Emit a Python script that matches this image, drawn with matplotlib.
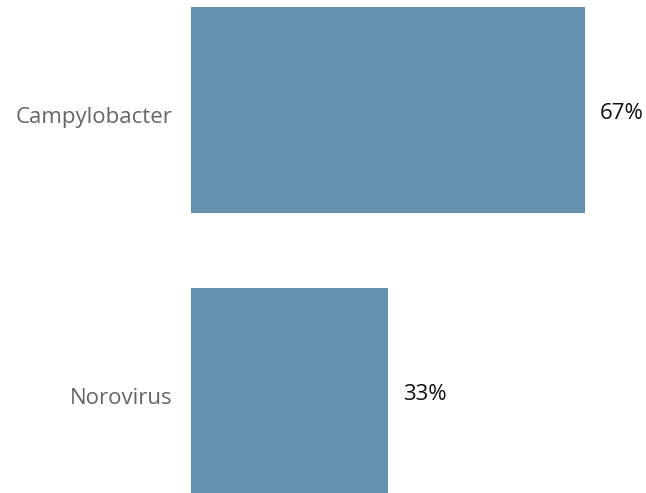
import matplotlib
matplotlib.use("Agg")
import matplotlib.pyplot as plt
import matplotlib.transforms as mtransforms

categories = ["Campylobacter", "Norovirus"]
values = [66.7, 33.3]
value_labels = ["67%", "33%"]

W, H = 646, 493
fig = plt.figure(figsize=(W / 100, H / 100), dpi=100)
px_per_unit = 394 / 66.7
ax = fig.add_axes([191 / W, 0, 1 - 191 / W, 1])
pitch = 281
ax.set_xlim(0, (W - 191) / px_per_unit)
ax.set_ylim(1 + (H - 391) / pitch, -110 / pitch)

def offset(dx, dy):
    return mtransforms.ScaledTranslation(dx / 100, dy / 100, fig.dpi_scale_trans)

pos = list(range(len(categories)))
ax.barh(pos, values, height=206 / pitch, color="#6591b0")
for p, v, lab, cat in zip(pos, values, value_labels, categories):
    ax.text(v, p, lab, va="center", ha="left",
            fontsize=16, family="Open Sans", color="#111111",
            transform=ax.transData + offset(15, -3))
    ax.text(0, p, cat, va="center", ha="right",
            fontsize=16, family="Open Sans", color="#666666",
            transform=ax.transData + offset(-19, -7))
ax.set_yticks([])
ax.set_xticks([])
for s in ax.spines.values():
    s.set_visible(False)
fig.savefig("out.png", dpi=100)
